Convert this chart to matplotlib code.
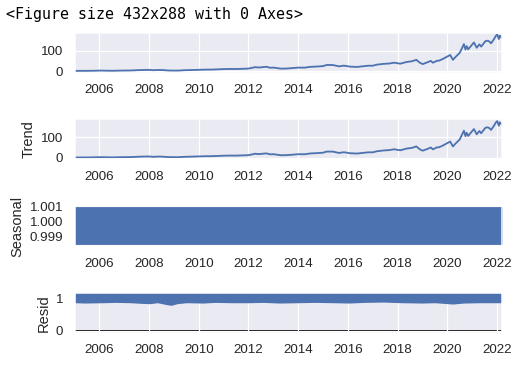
import numpy as np
import pandas as pd
import matplotlib
matplotlib.use('Agg')
import matplotlib.pyplot as plt
import matplotlib.dates as mdates
import seaborn as sns

# ── dados (decomposição multiplicativa, preço diário) ─────────────────────────
obs_dates = ['2005-01-03', '2005-04-01', '2005-07-01', '2005-10-03', '2006-01-13',
             '2006-04-03', '2006-07-17', '2006-10-02', '2007-01-03', '2007-04-02',
             '2007-07-02', '2007-10-01', '2007-12-27', '2008-03-03', '2008-05-15',
             '2008-08-01', '2008-10-10', '2008-12-31', '2009-03-09', '2009-06-01',
             '2009-09-01', '2009-12-31', '2010-04-01', '2010-07-01', '2010-10-01',
             '2010-12-31', '2011-04-01', '2011-07-01', '2011-10-03', '2011-12-30',
             '2012-04-09', '2012-06-01', '2012-09-19', '2012-11-15', '2013-01-02',
             '2013-04-19', '2013-07-01', '2013-10-01', '2013-12-31', '2014-04-01',
             '2014-07-01', '2014-10-01', '2014-12-31', '2015-02-23', '2015-05-22',
             '2015-08-24', '2015-11-02', '2016-02-01', '2016-05-12', '2016-08-01',
             '2016-10-25', '2016-12-30', '2017-03-01', '2017-06-05', '2017-09-01',
             '2017-11-08', '2018-02-08', '2018-05-10', '2018-08-01', '2018-10-03',
             '2018-11-20', '2019-01-03', '2019-03-01', '2019-05-03', '2019-06-03',
             '2019-07-31', '2019-09-02', '2019-10-31', '2019-12-31', '2020-02-12',
             '2020-03-23', '2020-05-01', '2020-07-01', '2020-09-01', '2020-09-23',
             '2020-10-12', '2020-11-02', '2020-12-31', '2021-01-26', '2021-03-08',
             '2021-04-16', '2021-05-12', '2021-07-14', '2021-08-16', '2021-09-10',
             '2021-10-04', '2021-11-19', '2021-12-13', '2022-01-03', '2022-01-27',
             '2022-02-09', '2022-03-10']
obs_values = [1.1, 1.3, 1.3, 1.7, 2.6,
              2.1, 1.6, 2.3, 2.8, 3.0,
              4.4, 5.5, 6.2, 4.3, 5.6,
              4.8, 3.0, 2.6, 2.6, 4.4,
              5.1, 6.4, 7.3, 7.5, 8.7,
              9.9, 10.6, 10.3, 11.4, 12.4,
              19.5, 17.6, 21.3, 16.5, 17.3,
              12.2, 12.5, 14.6, 17.3, 16.9,
              21.0, 22.5, 24.6, 30.0, 30.1,
              23.4, 27.0, 22.0, 20.5, 23.4,
              26.5, 26.5, 31.6, 35.5, 37.4,
              41.5, 36.5, 44.7, 48.5, 55.5,
              42.0, 34.5, 41.5, 50.2, 41.2,
              50.6, 51.5, 60.5, 71.8, 79.3,
              55.5, 69.5, 89.9, 132.9, 106.0,
              123.0, 107.0, 130.6, 141.0, 115.0,
              131.6, 120.6, 147.4, 149.5, 145.5,
              136.5, 158.5, 173.0, 180.0, 157.5,
              174.0, 164.0]

# tendência (média móvel de período curto: praticamente igual à série)
trend_dates = obs_dates
trend_values = obs_values

# sazonal: faixa densa entre os extremos do ciclo
seas_dates = ['2005-01-03', '2022-03-10']
seas_low = [0.99852, 0.99852]
seas_high = [1.00094, 1.00094]

# resíduo: envelope da nuvem de pontos
resid_dates = ['2005-01-03', '2005-06-01', '2006-03-01', '2006-09-01', '2007-04-01',
               '2007-09-15', '2008-01-10', '2008-05-01', '2008-09-20', '2008-11-20',
               '2009-02-15', '2009-07-01', '2010-03-01', '2010-09-01', '2011-05-01',
               '2012-01-01', '2012-08-01', '2013-04-01', '2014-01-01', '2014-09-01',
               '2015-06-01', '2016-01-20', '2016-09-01', '2017-06-01', '2018-03-01',
               '2018-12-20', '2019-07-01', '2020-03-20', '2020-09-01', '2021-05-01',
               '2022-03-10']
resid_low = [0.86, 0.85, 0.86, 0.87, 0.86,
             0.84, 0.83, 0.86, 0.80, 0.78,
             0.83, 0.86, 0.85, 0.87, 0.86,
             0.86, 0.87, 0.85, 0.86, 0.87,
             0.86, 0.85, 0.87, 0.88, 0.86,
             0.85, 0.86, 0.82, 0.85, 0.86,
             0.86]
resid_high = [1.25] * len(resid_dates)

# ── estilo ────────────────────────────────────────────────────────────────────
sns.set_theme(style='darkgrid')
plt.rcParams['font.family'] = ['Liberation Sans', 'DejaVu Sans']
cor = '#4C72B0'

fig = plt.figure(figsize=(6, 366 / 87.5), dpi=87.5)
fig.text(0.012, 1 - 14 / 366, '<Figure size 432x288 with 0 Axes>',
         family='DejaVu Sans Mono', fontsize=12.4, color='black', va='center')

esq, larg, alt = 74.7 / 525, 427 / 525, 40 / 366
bases = [72.7, 159.3, 246.0, 332.7]
axes = [fig.add_axes([esq, 1 - b / 366, larg, alt]) for b in bases]

x0 = pd.Timestamp(obs_dates[0])
x1 = pd.Timestamp(obs_dates[-1])

ax = axes[0]
ax.plot(pd.to_datetime(obs_dates), obs_values, color=cor, lw=1.5)
ax.set_yticks([0, 100])

ax = axes[1]
ax.plot(pd.to_datetime(trend_dates), trend_values, color=cor, lw=1.5)
ax.set_yticks([0, 100])
ax.set_ylabel('Trend')

ax = axes[2]
ax.fill_between(pd.to_datetime(seas_dates), seas_low, seas_high,
                color=cor, lw=1.5, edgecolor=cor)
ax.set_yticks([0.999, 1.000, 1.001])
ax.yaxis.set_major_formatter(plt.FormatStrFormatter('%.3f'))
ax.set_ylabel('Seasonal')

ax = axes[3]
ax.fill_between(pd.to_datetime(resid_dates), resid_low, resid_high, color=cor, lw=0)
ax.plot([x0, x1], [0, 0], color='#000000', zorder=-3)
ax.set_ylim(-0.055, 1.166)
ax.set_yticks([0, 1])
ax.set_ylabel('Resid')

for ax in axes:
    ax.set_xlim(x0, x1)
    ax.xaxis.set_major_locator(mdates.YearLocator(2))
    ax.xaxis.set_major_formatter(mdates.DateFormatter('%Y'))

fig.savefig('out.png', dpi=87.5)
